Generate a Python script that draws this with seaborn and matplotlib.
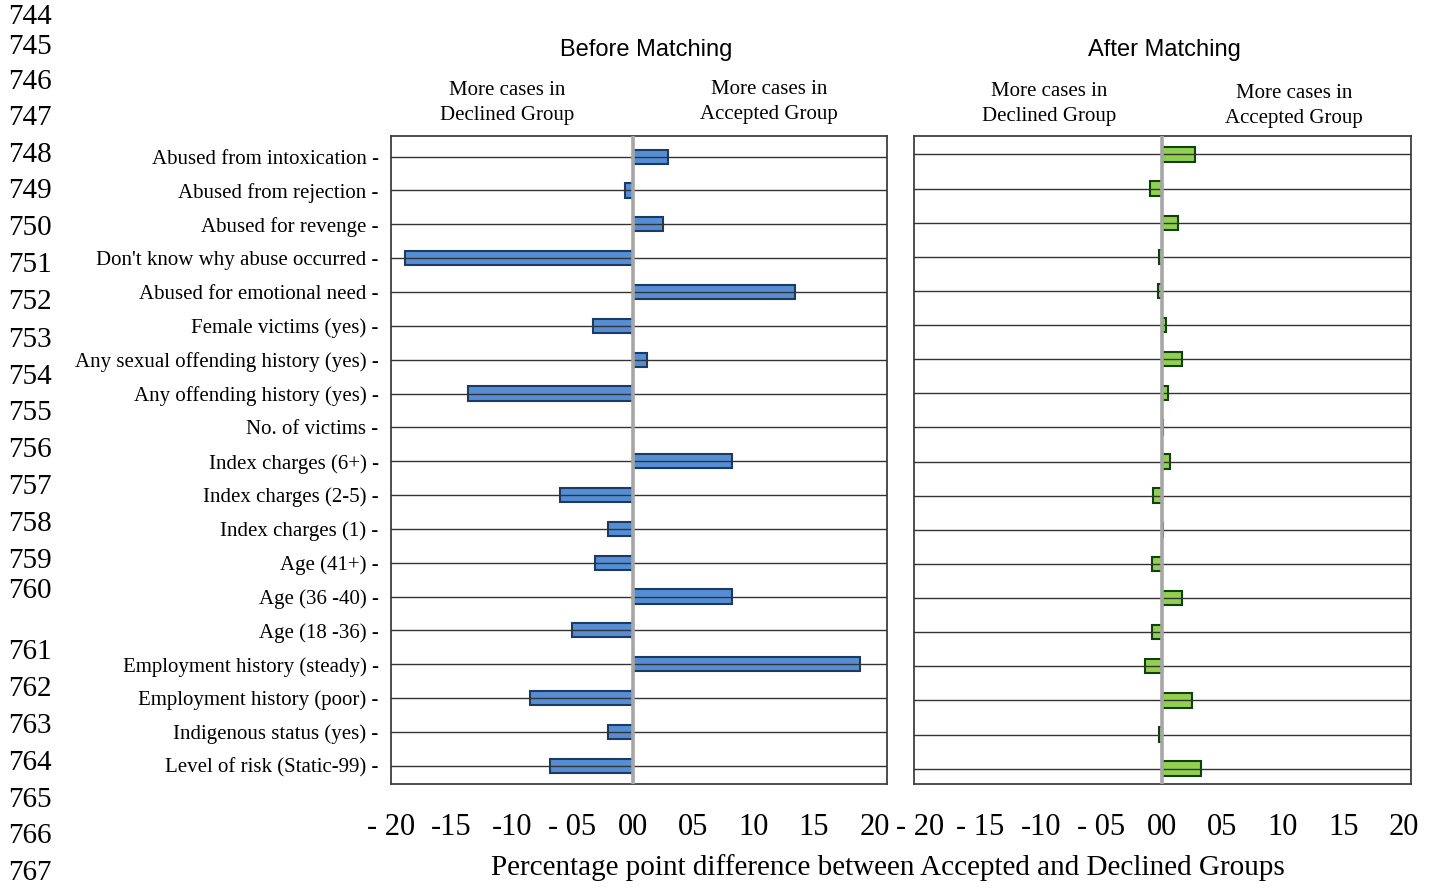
import matplotlib
matplotlib.use("Agg")
import matplotlib.pyplot as plt
import seaborn as sns
import pandas as pd

categorias = [
    "Abused from intoxication", "Abused from rejection", "Abused for revenge",
    "Don't know why abuse occurred", "Abused for emotional need",
    "Female victims (yes)", "Any sexual offending history (yes)",
    "Any offending history (yes)", "No. of victims", "Index charges (6+)",
    "Index charges (2-5)", "Index charges (1)", "Age (41+)", "Age (36 -40)",
    "Age (18 -36)", "Employment history (steady)", "Employment history (poor)",
    "Indigenous status (yes)", "Level of risk (Static-99)",
]
antes = [2.9, -0.6, 2.5, -18.8, 13.4, -3.3, 1.2, -13.6, 0.05, 8.2,
         -6.0, -2.0, -3.1, 8.2, -5.0, 18.8, -8.5, -2.0, -6.8]
depois = [2.7, -1.0, 1.35, -0.2, -0.35, 0.35, 1.7, 0.5, 0.1, 0.7,
          -0.7, 0.1, -0.85, 1.7, -0.85, -1.35, 2.5, -0.2, 3.2]

ticks = [-20, -15, -10, -5, 0, 5, 10, 15, 20]
rotulos_esq = ["- 20", "-15", "-10", "- 05", "00", "05", "10", "15", "20"]
rotulos_dir = ["- 20", "- 15", "-10", "- 05", "00", "05", "10", "15", "20"]

numeros_linha = [744, 745, 746, 747, 748, 749, 750, 751, 752, 753, 754, 755,
                 756, 757, 758, 759, 760, 761, 762, 763, 764, 765, 766, 767]
y_numeros = [17, 47, 82, 118, 155, 191, 228, 265, 302, 340, 377, 413,
             450, 487, 524, 561, 591, 652, 689, 726, 763, 800, 836, 873]

W, H = 1431, 888

sns.set_style("white")
plt.rcParams["font.family"] = ["Liberation Serif", "DejaVu Serif"]
plt.rcParams["text.color"] = "black"
plt.rcParams["xtick.labelcolor"] = "black"
plt.rcParams["ytick.labelcolor"] = "black"

fig = plt.figure(figsize=(W / 100, H / 100), dpi=100)
ax1 = fig.add_axes([391 / W, 1 - 784 / H, 496 / W, 648 / H])
ax2 = fig.add_axes([914 / W, 1 - 784 / H, 497 / W, 648 / H])

df = pd.DataFrame({"cat": categorias, "antes": antes, "depois": depois})

sns.barplot(data=df, x="antes", y="cat", orient="h", color="#558ED5",
            edgecolor="#1F3A60", linewidth=1.5, width=0.42, saturation=1,
            ax=ax1)
sns.barplot(data=df, x="depois", y="cat", orient="h", color="#92D050",
            edgecolor="#0F4010", linewidth=1.5, width=0.42, saturation=1,
            ax=ax2)

def estilo(ax, xlim, ylim, rotulos):
    ax.set_xlim(*xlim)
    ax.set_ylim(*ylim)
    ax.set_axisbelow(False)
    ax.grid(axis="y", color="#333333", linewidth=1.0)
    ax.grid(axis="x", visible=False)
    ax.axvline(0, color="#A6A6A6", linewidth=2.6, zorder=3)
    for s in ax.spines.values():
        s.set_visible(True)
        s.set_color("#404040")
        s.set_linewidth(1.3)
    ax.set_xticks(ticks)
    ax.set_xticklabels(rotulos, fontsize=22)
    ax.tick_params(axis="x", direction="inout", length=6, width=2.2,
                   color="#A0A0A0", pad=18)
    ax.set_xlabel("")
    ax.set_ylabel("")

estilo(ax1, (-20, 21.05), (18.54, -0.61), rotulos_esq)
estilo(ax2, (-20.47, 20.58), (18.45, -0.54), rotulos_dir)

ax1.set_yticks(range(len(categorias)))
ax1.set_yticklabels([f"{c} -" for c in categorias], fontsize=15)
ax1.tick_params(axis="y", length=0, pad=9)
ax2.set_yticks(range(len(categorias)))
ax2.set_yticklabels([])
ax2.tick_params(axis="y", length=0)

def px(x, y):
    return x / W, 1 - y / H

sans = ["Liberation Sans", "DejaVu Sans"]
fig.text(*px(646, 50), "Before Matching", fontsize=17, family=sans,
         ha="center", va="center")
fig.text(*px(1164, 50), "After Matching", fontsize=17, family=sans,
         ha="center", va="center")

cabecalhos = [
    (507, 103, "More cases in\nDeclined Group"),
    (769, 102, "More cases in\nAccepted Group"),
    (1049, 104, "More cases in\nDeclined Group"),
    (1294, 106, "More cases in\nAccepted Group"),
]
for x, y, t in cabecalhos:
    fig.text(*px(x, y), t, fontsize=15, ha="center", va="center",
             linespacing=1.4)

fig.text(*px(888, 868), "Percentage point difference between Accepted and Declined Groups",
         fontsize=21, ha="center", va="center")

for n, y in zip(numeros_linha, y_numeros):
    fig.text(*px(8, y), str(n), fontsize=21, ha="left", va="center")

fig.savefig("out.png", dpi=100)
